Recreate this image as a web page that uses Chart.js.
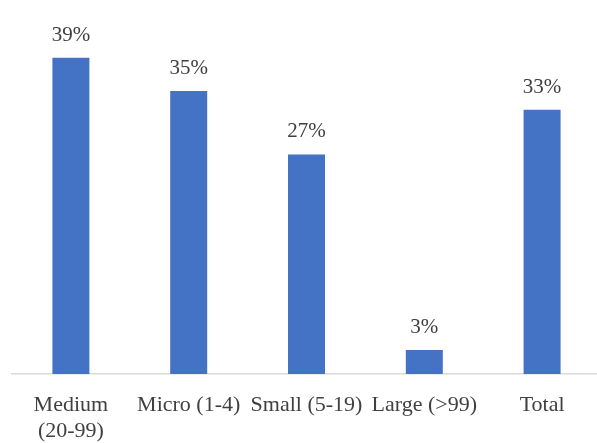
<!DOCTYPE html>
<html>
<head>
<meta charset="utf-8">
<script src="https://cdn.jsdelivr.net/npm/chart.js@4"></script>
<style>
  html, body { margin: 0; padding: 0; background: #fff; overflow: hidden; }
  #wrap { position: relative; width: 601px; height: 443px; }
</style>
</head>
<body>
<div id="wrap"><canvas id="chart"></canvas></div>
<script>
/* firm size bar chart */

const categories = [['Medium', '(20-99)'], 'Micro (1-4)', 'Small (5-19)', 'Large (>99)', 'Total'];
const shares = [38.9, 34.8, 27.0, 2.95, 32.5];
const yMin = 0, yMax = 46;

const textColor = '#404040';
const barColor = '#4472C4';
const fontFamily = '"Liberation Serif", "DejaVu Serif", serif';

// draws the % value above each bar
const valueLabels = {
  id: 'valueLabels',
  afterDatasetsDraw(chart) {
    const ctx = chart.ctx;
    const meta = chart.getDatasetMeta(0);
    ctx.save();
    ctx.font = '21px ' + fontFamily;
    ctx.fillStyle = textColor;
    ctx.textAlign = 'center';
    ctx.textBaseline = 'alphabetic';
    meta.data.forEach((bar, i) => {
      ctx.fillText(Math.round(shares[i]) + '%', bar.x, bar.y - 17);
    });
    ctx.restore();
  }
};

const ctx = document.getElementById('chart').getContext('2d');
new Chart(ctx, {
  type: 'bar',
  data: {
    labels: categories,
    datasets: [{ data: shares, backgroundColor: barColor, borderWidth: 0, categoryPercentage: 1, barPercentage: 0.314 }]
  },
  options: {
    responsive: true, maintainAspectRatio: false, animation: false,
    layout: { padding: { left: 12, right: 0, top: 0, bottom: 0 } },
    plugins: { legend: { display: false }, tooltip: { enabled: false } },
    scales: {
      y: { display: false, min: yMin, max: yMax },
      x: {
        grid: { display: false },
        border: { display: true, color: '#d9d9d9', width: 1.5 },
        ticks: { color: textColor, font: { family: fontFamily, size: 22, lineHeight: 1.2 }, padding: 10, maxRotation: 0, autoSkip: false },
        afterFit(scale) { scale.height = 69; }
      }
    }
  },
  plugins: [valueLabels]
});
</script>
</body>
</html>
